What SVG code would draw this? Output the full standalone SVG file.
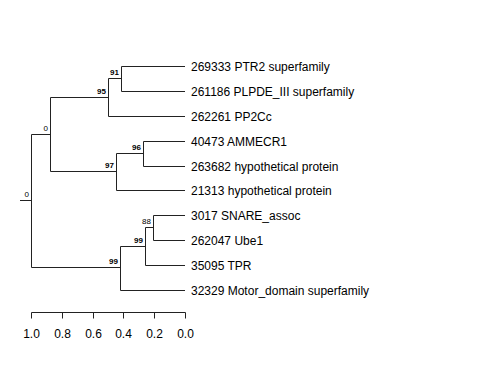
<svg xmlns="http://www.w3.org/2000/svg" width="480" height="384" viewBox="0 0 480 384">
<style>
.br{stroke:#222;stroke-width:1;fill:none}
.lf{font-family:"Liberation Sans",Arial,sans-serif;font-size:12px;fill:#000}
.bs{font-family:"Liberation Sans",Arial,sans-serif;font-size:8px;fill:#000;text-anchor:end}
.bb{font-weight:bold}
.ax{font-family:"Liberation Sans",Arial,sans-serif;font-size:12px;fill:#000;text-anchor:middle}
</style>
<rect width="480" height="384" fill="#fff"/>
<g id="connectors" class="br">
<path d="M20,200.5H31.5"/>
<path d="M31.5,134.5V267.5"/>
<path d="M31.5,134.5H50.5"/>
<path d="M50.5,97.5V171.5"/>
<path d="M50.5,97.5H108.5"/>
<path d="M108.5,78.5V116.5"/>
<path d="M108.5,78.5H121.5"/>
<path d="M121.5,66.5V91.5"/>
<path d="M121.5,66.5H185"/>
<path d="M121.5,91.5H185"/>
<path d="M108.5,116.5H185"/>
<path d="M50.5,171.5H116.5"/>
<path d="M116.5,153.5V190.5"/>
<path d="M116.5,153.5H143.5"/>
<path d="M143.5,141.5V166.5"/>
<path d="M143.5,141.5H185"/>
<path d="M143.5,166.5H185"/>
<path d="M116.5,190.5H185"/>
<path d="M31.5,267.5H120.5"/>
<path d="M120.5,246.5V290.5"/>
<path d="M120.5,246.5H145.5"/>
<path d="M145.5,227.5V265.5"/>
<path d="M145.5,227.5H153.5"/>
<path d="M153.5,215.5V240.5"/>
<path d="M153.5,215.5H185"/>
<path d="M153.5,240.5H185"/>
<path d="M145.5,265.5H185"/>
<path d="M120.5,290.5H185"/>
</g>
<g id="bootstrap">
<text class="bs" x="29" y="197">0</text>
<text class="bs" x="48" y="131">0</text>
<text class="bs bb" x="106" y="94">95</text>
<text class="bs bb" x="119" y="75">91</text>
<text class="bs bb" x="114" y="168">97</text>
<text class="bs bb" x="141" y="150">96</text>
<text class="bs bb" x="118" y="264">99</text>
<text class="bs bb" x="143" y="243">99</text>
<text class="bs" x="151" y="224">88</text>
</g>
<g id="leaves">
<g id="n1"><text class="lf" x="191" y="70.5">269333 PTR2 superfamily</text></g>
<g id="n2"><text class="lf" x="191" y="95.5">261186 PLPDE_III superfamily</text></g>
<g id="n3"><text class="lf" x="191" y="120.5">262261 PP2Cc</text></g>
<g id="n4"><text class="lf" x="191" y="145.5">40473 AMMECR1</text></g>
<g id="n5"><text class="lf" x="191" y="170.5">263682 hypothetical protein</text></g>
<g id="n6"><text class="lf" x="191" y="194.5">21313 hypothetical protein</text></g>
<g id="n7"><text class="lf" x="191" y="219.5">3017 SNARE_assoc</text></g>
<g id="n8"><text class="lf" x="191" y="244.5">262047 Ube1</text></g>
<g id="n9"><text class="lf" x="191" y="269.5">35095 TPR</text></g>
<g id="n10"><text class="lf" x="191" y="294.5">32329 Motor_domain superfamily</text></g>
</g>
<g id="axis">
<path class="br" d="M31.5,312.5H185.5M31.5,312.5V318.5M62.5,312.5V318.5M93.5,312.5V318.5M123.5,312.5V318.5M154.5,312.5V318.5M185.5,312.5V318.5"/>
<text class="ax" x="31.5" y="338">1.0</text>
<text class="ax" x="62.5" y="338">0.8</text>
<text class="ax" x="93.5" y="338">0.6</text>
<text class="ax" x="123.5" y="338">0.4</text>
<text class="ax" x="154.5" y="338">0.2</text>
<text class="ax" x="185.5" y="338">0.0</text>
</g>
</svg>
